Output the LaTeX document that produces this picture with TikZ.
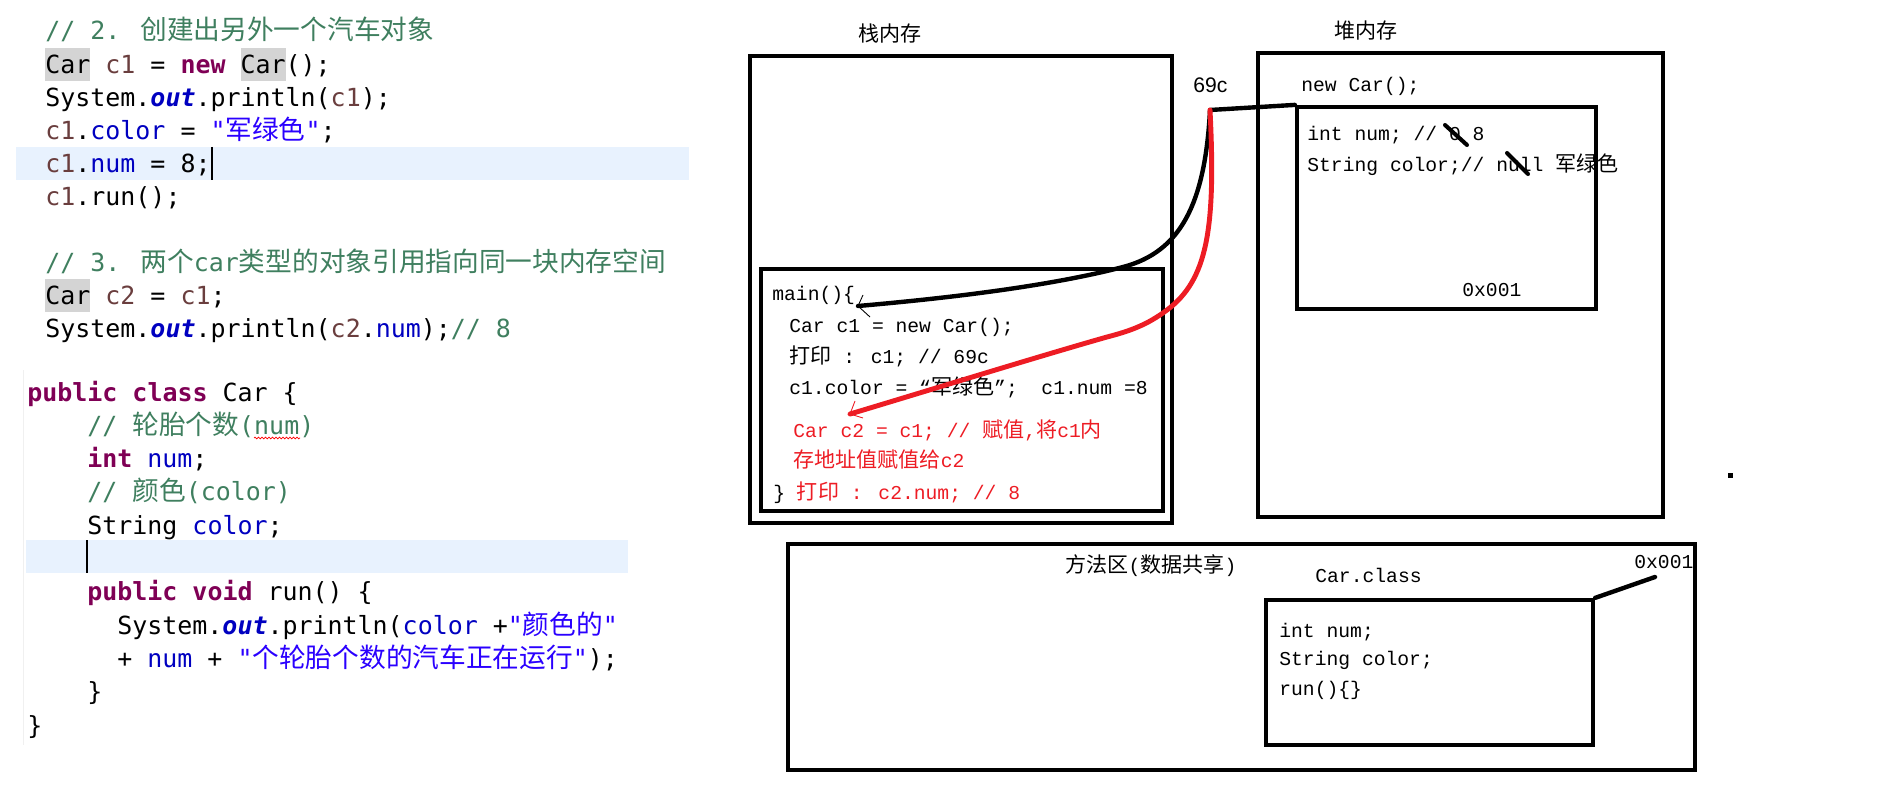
\documentclass[tikz,border=0pt]{standalone}
\usepackage{fontspec}
\usetikzlibrary{fit, decorations.pathmorphing}

\newfontfamily\codefont{DejaVu Sans Mono}
\newfontfamily\paintfont{Liberation Mono}
\newfontfamily\labelfont{Liberation Sans}
\newfontfamily\cjk{Noto Sans CJK SC}[Scale=1.07]

\definecolor{kwpurple}{HTML}{7F0055}
\definecolor{cmtgreen}{HTML}{3F7F5F}
\definecolor{varbrown}{HTML}{6A3E3E}
\definecolor{fieldblue}{HTML}{0000C0}
\definecolor{strblue}{HTML}{2A00FF}
\definecolor{hlgrey}{HTML}{D4D4D4}
\definecolor{lineblue}{HTML}{E8F2FE}
\definecolor{paintred}{HTML}{ED1C24}

\newcommand{\zh}[1]{{\cjk #1}}
\newcommand{\jkw}[1]{\textcolor{kwpurple}{\bfseries #1}}
\newcommand{\jcmt}[1]{\textcolor{cmtgreen}{#1}}
\newcommand{\jvar}[1]{\textcolor{varbrown}{#1}}
\newcommand{\jfld}[1]{\textcolor{fieldblue}{#1}}
\newcommand{\jsfld}[1]{\textcolor{fieldblue}{\bfseries\itshape #1}}
\newcommand{\jstr}[1]{\textcolor{strblue}{#1}}
\newcommand{\jhl}[1]{{\setlength{\fboxsep}{0pt}\colorbox{hlgrey}{\rule[-4.3pt]{0pt}{18.8pt}#1}}}

\begin{document}
\begin{tikzpicture}[x=0.02cm, y=-0.02cm,
    code/.style={font=\codefont\fontsize{14.2pt}{17pt}\selectfont, inner sep=0pt, anchor=base west},
    paint/.style={font=\paintfont\fontsize{11.2pt}{13pt}\selectfont, inner sep=0pt, anchor=base west},
    frame/.style={draw, line width=2.4pt, inner sep=0pt},
    wire/.style={line width=2.5pt, line cap=round},
    tipline/.style={line width=0.5pt},
    strike/.style={line width=2.3pt, line cap=round}]
    \useasboundingbox (0,0) rectangle (1895,787);

    % editor: current lines
    \fill[lineblue] (16,147) rectangle (689,180);
    \fill[lineblue] (26,540) rectangle (628,573);
    \draw[black!6] (23,370) -- (23,745);

    % editor: main method
    \foreach \n/\t in {
        0/{\jcmt{// 2. \zh{创建出另外一个汽车对象}}},
        1/{\jhl{Car} \jvar{c1} = \jkw{new} \jhl{Car}();},
        2/{System.\jsfld{out}.println(\jvar{c1});},
        3/{\jvar{c1}.\jfld{color} = \jstr{"\zh{军绿色}"};},
        4/{\jvar{c1}.\jfld{num} = 8;},
        5/{\jvar{c1}.run();},
        7/{\jcmt{// 3. \zh{两个}car\zh{类型的对象引用指向同一块内存空间}}},
        8/{\jhl{Car} \jvar{c2} = \jvar{c1};},
        9/{System.\jsfld{out}.println(\jvar{c2}.\jfld{num});\jcmt{// 8}}} {
        \node[code] (a\n) at (45, {40+33.1*\n}) {\t};
    }

    % editor: class Car
    \foreach \n/\k/\t in {
        0/0/{\jkw{public} \jkw{class} Car \{},
        1/4/{\jcmt{// \zh{轮胎个数}(num)}},
        2/4/{\jkw{int} \jfld{num};},
        3/4/{\jcmt{// \zh{颜色}(color)}},
        4/4/{String \jfld{color};},
        6/4/{\jkw{public} \jkw{void} run() \{},
        7/6/{System.\jsfld{out}.println(\jfld{color} +\jstr{"\zh{颜色的}"}},
        8/6/{+ \jfld{num} + \jstr{"\zh{个轮胎个数的汽车正在运行}"});},
        9/4/{\}},
        10/0/{\}}} {
        \node[code] (b\n) at ({27+15*\k}, {401+33.3*\n}) {\t};
    }

    \draw[line width=0.9pt] (212,147) -- (212,180);
    \draw[line width=0.9pt] (87,540) -- (87,573);
    \draw[red, line width=0.4pt, decorate, decoration={zigzag, amplitude=0.5pt, segment length=2pt}] (254,438) -- (300,438);

    % memory boxes
    \node[frame, fit={(750,56) (1172,523)}] (stack) {};
    \node[frame, fit={(761,269) (1163,511)}] (mainframe) {};
    \node[frame, fit={(1258,53) (1663,517)}] (heap) {};
    \node[frame, fit={(1297,107) (1596,309)}] (obj) {};
    \node[frame, fit={(788,544) (1695,770)}] (method) {};
    \node[frame, fit={(1266,600) (1593,745)}] (cls) {};

    \node[paint] (stacktitle) at (858,42) {\zh{栈内存}};
    \node[paint] (heaptitle) at (1334,39) {\zh{堆内存}};
    \node[font=\labelfont\fontsize{12pt}{14pt}\selectfont, inner sep=0pt, anchor=base west] (addrlabel) at (1193,93) {69c};

    % stack frame of main()
    \node[paint] (s1) at (772,300) {main()\{};
    \node[paint] (s2) at (789,332) {Car c1 = new Car();};
    \node[paint] (s3) at (789,363) {\zh{打印} : c1; // 69c};
    \node[paint] (s4) at (789,394) {c1.color = “\zh{军绿色}”;\ \ c1.num =8};
    \node[paint, text=paintred] (s5) at (793,437) {Car c2 = c1; // \zh{赋值},\zh{将}c1\zh{内}};
    \node[paint, text=paintred] (s6) at (793,467) {\zh{存地址值赋值给}c2};
    \node[paint] (s7) at (773,499) {\}\ \textcolor{paintred}{\zh{打印} : c2.num; // 8}};

    % heap object
    \node[paint] (newcar) at (1301,92) {new Car();};
    \node[paint] (f1) at (1307,141) {int num; // 0 8};
    \node[paint] (f2) at (1307,172) {String color;// null \zh{军绿色}};
    \node[paint] (objaddr) at (1462,296) {0x001};
    \draw[strike] (1445,125) -- (1467,145);
    \draw[strike] (1507,153) -- (1528,174);

    % method area
    \node[paint] (mtitle) at (1065,572) {\zh{方法区}(\zh{数据共享})};
    \node[paint] (clsname) at (1315,582) {Car.class};
    \node[paint] (clsaddr) at (1634,568) {0x001};
    \node[paint] (m1) at (1279,637) {int num;};
    \node[paint] (m2) at (1279,665) {String color;};
    \node[paint] (m3) at (1279,695) {run()\{\}};
    \coordinate (clsptr) at (1655,577);
    \draw[wire] (cls.north east) -- (clsptr);

    % references
    \coordinate (addr) at (1210,110);
    \coordinate (c1ref) at (858,306);
    \coordinate (c2ref) at (850,414);
    \draw[wire] (addr) -- (obj.north west);
    \draw[wire] (addr) .. controls (1205,205) and (1180,252) .. (1123,267)
        .. controls (1050,286) and (950,298) .. (c1ref);
    \draw[tipline] (c1ref) ++(5,-11) -- (c1ref) -- ++(12,11);
    \draw[wire, paintred, line width=2.8pt] (addr) .. controls (1216,230) and (1207,280) .. (1167,310)
        .. controls (1147,325) and (1130,331) .. (1107,337)
        .. controls (1040,356) and (930,390) .. (c2ref);
    \draw[tipline, paintred] (c2ref) ++(5,-13) -- (c2ref) -- ++(13,4);

    \fill (1727.5,472.5) rectangle (1732.5,477.5);
\end{tikzpicture}
\end{document}
